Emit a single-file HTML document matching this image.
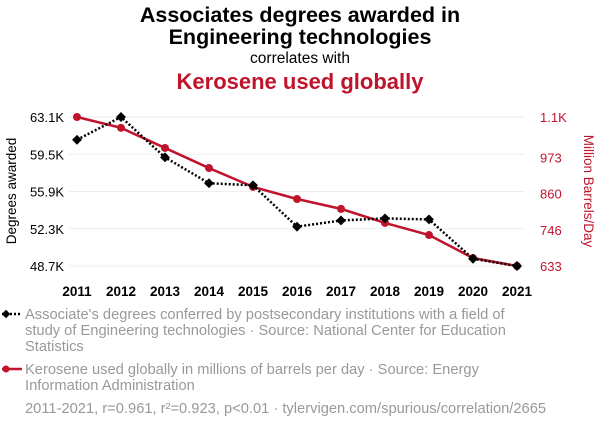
<!DOCTYPE html>
<html><head><meta charset="utf-8"><style>
body{margin:0;background:#fff;width:600px;height:430px;overflow:hidden;font-family:"Liberation Sans",sans-serif}
</style></head><body>
<svg id="chart" width="600" height="430" xmlns="http://www.w3.org/2000/svg">
<text x="300" y="22" text-anchor="middle" font-size="21.5" font-weight="bold" fill="#000">Associates degrees awarded in</text>
<text x="300" y="44" text-anchor="middle" font-size="21.5" font-weight="bold" fill="#000">Engineering technologies</text>
<text x="300" y="63" text-anchor="middle" font-size="15.5" fill="#000">correlates with</text>
<text x="300" y="89" text-anchor="middle" font-size="22" font-weight="bold" fill="#c0142c">Kerosene used globally</text>
<text transform="translate(16,191) rotate(-90)" text-anchor="middle" font-size="13.5" fill="#000">Degrees awarded</text>
<text transform="translate(584,191) rotate(90)" text-anchor="middle" font-size="13.5" fill="#c0142c">Million Barrels/Day</text>
<g id="grid"></g><g id="axes"></g><g id="series"></g>
<g>
<line x1="2" y1="314" x2="22" y2="314" stroke="#000" stroke-width="2.5" stroke-dasharray="2,2"/>
<rect x="3" y="311" width="6" height="6" transform="rotate(45 6 314)" fill="#000"/>
<text font-size="14.7" fill="#999"><tspan x="25" y="319">Associate's degrees conferred by postsecondary institutions with a field of</tspan><tspan x="25" y="335">study of Engineering technologies · Source: National Center for Education</tspan><tspan x="25" y="351">Statistics</tspan></text>
<line x1="2" y1="369" x2="22" y2="369" stroke="#c0142c" stroke-width="2.5"/>
<circle cx="6" cy="369" r="3.5" fill="#c0142c"/>
<text font-size="14.7" fill="#999"><tspan x="25" y="374">Kerosene used globally in millions of barrels per day · Source: Energy</tspan><tspan x="25" y="390">Information Administration</tspan></text>
<text x="25" y="413" font-size="14.7" fill="#999">2011-2021, r=0.961, r²=0.923, p&lt;0.01 · tylervigen.com/spurious/correlation/2665</text>
</g>
</svg>
<script>
const years=[2011,2012,2013,2014,2015,2016,2017,2018,2019,2020,2021];
const degrees=[60.9,63.1,59.2,56.7,56.5,52.5,53.1,53.3,53.2,49.4,48.7];
const kerosene=[1100,1066,1003,940,881,843,812,768,730,658,633];
const leftTicks=[48.7,52.3,55.9,59.5,63.1];
const leftLabels=["48.7K","52.3K","55.9K","59.5K","63.1K"];
const rightTicks=[633,746,860,973,1100];
const rightLabels=["633","746","860","973","1.1K"];
const NS="http://www.w3.org/2000/svg";
const X0=77,X1=517,YT=117,YB=266;
const x=y=>X0+(y-2011)/(2021-2011)*(X1-X0);
const yl=v=>YB-(v-48.7)/(63.1-48.7)*(YB-YT);
const yr=v=>YB-(v-633)/(1100-633)*(YB-YT);
function mk(t,a,p){const e=document.createElementNS(NS,t);for(const k in a)e.setAttribute(k,a[k]);p.appendChild(e);return e;}
const grid=document.getElementById('grid'),axes=document.getElementById('axes'),ser=document.getElementById('series');
leftTicks.forEach((v,i)=>{
 const g=mk('line',{x1:X0-8,x2:X1+8,y1:yl(v),y2:yl(v),stroke:'#eee','stroke-width':1},grid);
 
 
 const t=mk('text',{x:64,y:yl(v)+5,'text-anchor':'end','font-size':13,fill:'#000'},axes);t.textContent=leftLabels[i];
 
 
});
rightTicks.forEach((v,i)=>{
 const t=mk('text',{x:540,y:yr(v)+5,'font-size':13,fill:'#c0142c'},axes);t.textContent=rightLabels[i];
 
 
});
years.forEach(yv=>{
 const t=mk('text',{x:x(yv),y:296,'text-anchor':'middle','font-size':13.5,'font-weight':'bold',fill:'#000'},axes);t.textContent=yv;
 
 
});
const rl=mk('polyline',{points:years.map((yv,i)=>x(yv)+','+yr(kerosene[i])).join(' '),fill:'none',stroke:'#c0142c','stroke-width':2.5},ser);


years.forEach((yv,i)=>{
 const c=mk('circle',{cx:x(yv),cy:yr(kerosene[i]),r:4,fill:'#c0142c'},ser);
 
 
});
const bl=mk('polyline',{points:years.map((yv,i)=>x(yv)+','+yl(degrees[i])).join(' '),fill:'none',stroke:'#000','stroke-width':2.5,'stroke-dasharray':'2,2'},ser);


years.forEach((yv,i)=>{
 const cx=x(yv),cy=yl(degrees[i]);
 const r=mk('rect',{x:cx-3.5,y:cy-3.5,width:7,height:7,fill:'#000',transform:`rotate(45 ${cx} ${cy})`},ser);
 
 
});
</script>
</body></html>
